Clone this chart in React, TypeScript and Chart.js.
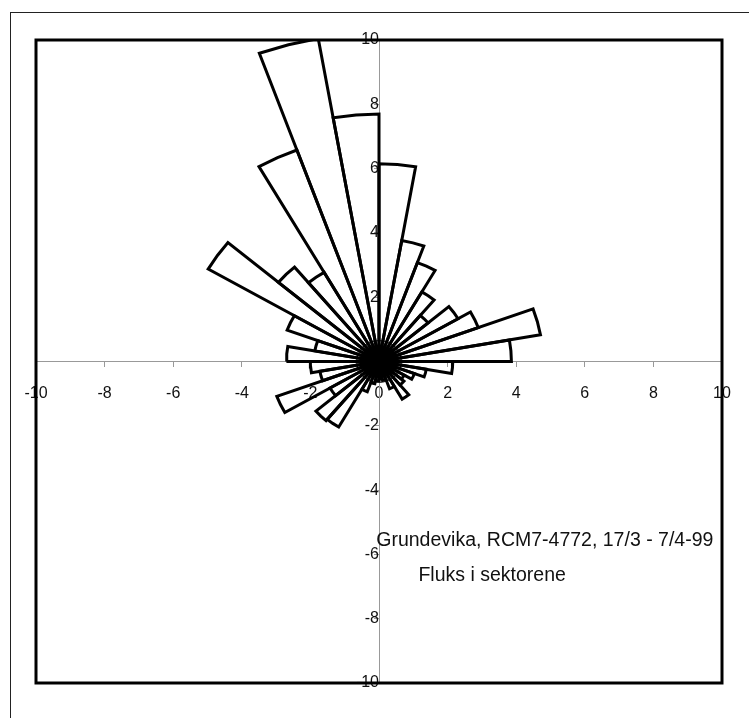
import React, { useEffect, useRef } from "react";
import { Chart, registerables } from "chart.js";

Chart.register(...registerables);

// Sector start directions (degrees clockwise from north), each sector 10° wide
const sectorStartDeg = [
  0, 10, 20, 30, 40, 50, 60, 70, 80, 90, 100, 110, 120, 130, 140, 150, 160, 170,
  180, 190, 200, 210, 220, 230, 240, 250, 260, 270, 280, 290, 300, 310, 320, 330, 340, 350,
];
const sectorWidthDeg = 10;
// Flux in each sector
const sectorFlux = [
  6.15, 3.82, 3.27, 2.5, 1.87, 2.66, 3.08, 4.78, 3.86, 2.15, 1.4, 1.1, 0.85, 0.95, 1.35, 0.9, 0.6, 0.55,
  0.6, 0.7, 1.0, 2.35, 2.4, 1.65, 3.17, 1.75, 2.0, 2.7, 1.9, 2.85, 5.75, 3.83, 3.2, 7.0, 10.2, 7.7,
];
const hubRadius = 0.65;
const axisTicks = [-10, -8, -6, -4, -2, 0, 2, 4, 6, 8, 10];
const noteLines = ["Grundevika, RCM7-4772, 17/3 - 7/4-99", "Fluks i sektorene"];
const notePos = [
  { x: -0.08, y: -5.57 },
  { x: 1.15, y: -6.66 },
];

const FONT = "'Liberation Sans', Arial, sans-serif";

function polar(r: number, deg: number) {
  const a = (deg * Math.PI) / 180;
  return { x: r * Math.sin(a), y: r * Math.cos(a) };
}

export default function App() {
  const ref = useRef<HTMLCanvasElement | null>(null);

  useEffect(() => {
    if (!ref.current) return;
    const datasets: any[] = sectorStartDeg.map((a0, i) => {
      const r = sectorFlux[i];
      const a1 = a0 + sectorWidthDeg;
      return {
        label: "s" + a0,
        data: [{ x: 0, y: 0 }, polar(r, a0), polar(r, (a0 + a1) / 2), polar(r, a1), { x: 0, y: 0 }],
        showLine: true,
        borderColor: "#000",
        borderWidth: 3,
        pointRadius: 0,
        fill: false,
        tension: 0,
        borderJoinStyle: "miter" as const,
      };
    });
    const hubPts: { x: number; y: number }[] = [];
    for (let d = 0; d <= 360; d += 10) hubPts.push(polar(hubRadius, d));
    datasets.push({
      label: "hub",
      data: hubPts,
      showLine: true,
      borderColor: "#111",
      backgroundColor: "#111",
      borderWidth: 1,
      pointRadius: 0,
      fill: true,
      tension: 0,
    });

    const framePlugin = {
      id: "frame",
      afterDatasetsDraw(chart: any) {
        const { ctx, chartArea: ca, scales } = chart;
        ctx.save();
        ctx.strokeStyle = "#000";
        ctx.lineWidth = 3;
        ctx.strokeRect(ca.left, ca.top, ca.right - ca.left, ca.bottom - ca.top);
        ctx.fillStyle = "#111";
        ctx.font = "19.5px " + FONT;
        ctx.textAlign = "left";
        ctx.textBaseline = "middle";
        noteLines.forEach((t, i) => {
          ctx.fillText(t, scales.x.getPixelForValue(notePos[i].x), scales.y.getPixelForValue(notePos[i].y));
        });
        ctx.restore();
      },
    };

    const tickCommon = {
      color: "#111",
      font: { family: FONT, size: 16 },
    };

    const chart = new Chart(ref.current, {
      type: "scatter",
      data: { datasets },
      options: {
        animation: false,
        responsive: false,
        maintainAspectRatio: false,
        layout: { padding: { left: 36, top: 40, right: 27, bottom: 35 } },
        plugins: { legend: { display: false }, tooltip: { enabled: false } },
        scales: {
          x: {
            type: "linear",
            min: -10,
            max: 10,
            position: { y: 0 } as any,
            afterBuildTicks: (s: any) => {
              s.ticks = axisTicks.map((v) => ({ value: v }));
            },
            ticks: { ...tickCommon, padding: 17, maxRotation: 0, autoSkip: false },
            grid: { drawOnChartArea: false, drawTicks: true, tickLength: 5, color: "#999" },
            border: { display: true, color: "#999", width: 1 },
          },
          y: {
            type: "linear",
            min: -10,
            max: 10,
            position: { x: 0 } as any,
            afterBuildTicks: (s: any) => {
              s.ticks = axisTicks.map((v) => ({ value: v }));
            },
            ticks: { ...tickCommon, padding: 10, autoSkip: false },
            grid: { drawOnChartArea: false, drawTicks: true, tickLength: 5, color: "#999" },
            border: { display: true, color: "#999", width: 1 },
          },
        },
      },
      plugins: [framePlugin],
    });
    return () => chart.destroy();
  }, []);

  return (
    <div
      style={{
        position: "absolute",
        left: 0,
        top: 0,
        width: 749,
        height: 718,
        background: "#fff",
        overflow: "hidden",
      }}
    >
      <div
        style={{
          position: "absolute",
          left: 10,
          top: 12,
          width: 760,
          height: 730,
          borderLeft: "1.5px solid #222",
          borderTop: "1.5px solid #222",
        }}
      />
      <canvas ref={ref} width={749} height={718} style={{ position: "absolute", left: 0, top: 0 }} />
    </div>
  );
}
